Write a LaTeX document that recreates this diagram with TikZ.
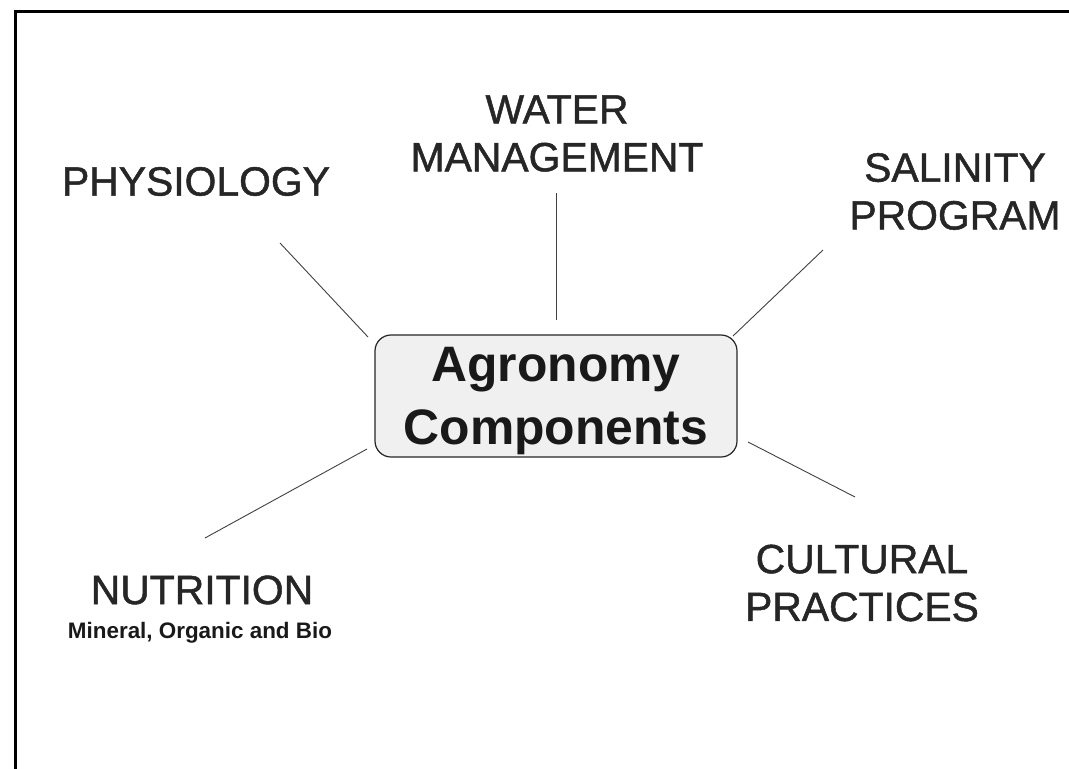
\documentclass[tikz,border=0pt]{standalone}
\usepackage{fontspec}
\setmainfont{Liberation Sans}
\newfontfamily\topicfont{Liberation Sans}[FakeBold=1.2]
\begin{document}
\begin{tikzpicture}[x=1bp,y=-1bp,
  label/.style={inner sep=0pt, align=center, text=black!85,
    font=\fontsize{41}{48}\topicfont},
  hubbox/.style={draw=black!85, line width=1.2bp, fill=black!6,
    rounded corners=16bp, minimum width=362bp, minimum height=122bp,
    inner sep=0pt, align=center, text=black!90, text depth=0pt,
    font=\fontsize{50}{63}\selectfont\bfseries},
  spoke/.style={draw=black!75, line width=0.9bp}]
\useasboundingbox (0,0) rectangle (1069,769);
% page frame (left and top edges)
\draw[line width=3bp] (15,769) -- (15,12) -- (1069,12);

% central node
\node[hubbox] (hub) at (556,396) {Agronomy\\Components};

% surrounding topics
\node[label] (phys) at (196,181.5) {PHYSIOLOGY};
\node[label] (water) at (557,133.5) {WATER\\MANAGEMENT};
\node[label] (sal) at (955,191.5) {SALINITY\\PROGRAM};
\node[label] (cult) at (862,583) {CULTURAL\\PRACTICES};
\node[label] (nutr) at (202,590) {NUTRITION};
\node[inner sep=0pt, anchor=base, text=black!90,
  font=\fontsize{22.5}{26}\selectfont\bfseries] (nutrsub) at (200,638)
  {Mineral, Organic and Bio};

% spoke end points
\coordinate (physA) at (368,337);  \coordinate (physB) at (280,243);
\coordinate (waterA) at (556,320); \coordinate (waterB) at (556,193);
\coordinate (salA) at (733,336);   \coordinate (salB) at (823,250);
\coordinate (cultA) at (748,442);  \coordinate (cultB) at (855,497);
\coordinate (nutrA) at (367,449);  \coordinate (nutrB) at (205,538);

\draw[spoke] (physA) -- (physB);
\draw[spoke] (waterA) -- (waterB);
\draw[spoke] (salA) -- (salB);
\draw[spoke] (cultA) -- (cultB);
\draw[spoke] (nutrA) -- (nutrB);
\end{tikzpicture}
\end{document}
